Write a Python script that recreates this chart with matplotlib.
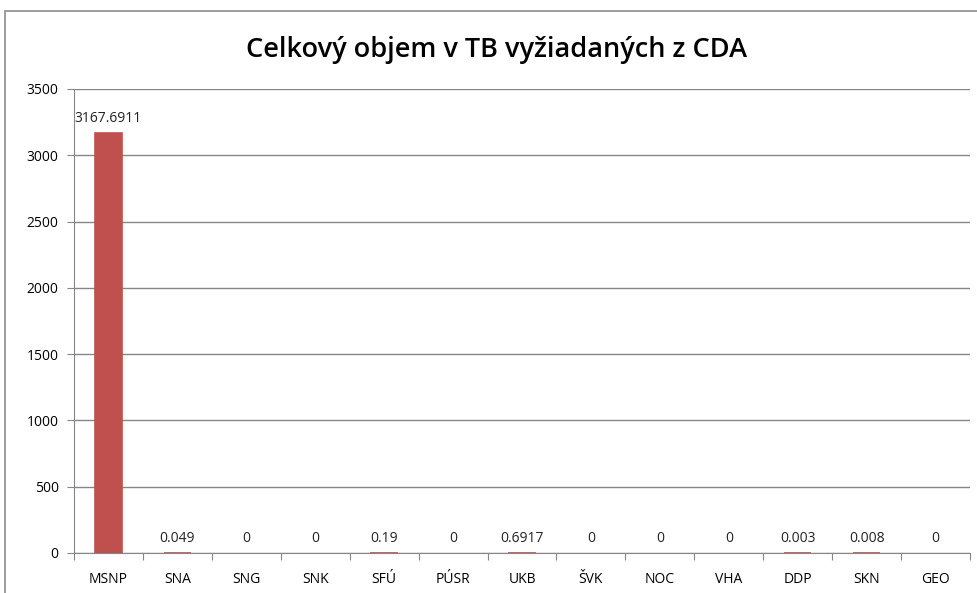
import numpy as np
from matplotlib import pyplot as plt
from matplotlib.patches import Rectangle

categories = ["MSNP", "SNA", "SNG", "SNK", "SFÚ", "PÚSR", "UKB", "ŠVK", "NOC", "VHA", "DDP", "SKN", "GEO"]
values = [3167.6911, 0.049, 0, 0, 0.19, 0, 0.6917, 0, 0, 0, 0.003, 0.008, 0]
value_labels = ["3167.6911", "0.049", "0", "0", "0.19", "0", "0.6917", "0", "0", "0", "0.003", "0.008", "0"]
yticks = [0, 500, 1000, 1500, 2000, 2500, 3000, 3500]

plt.rcParams['font.family'] = ['Open Sans', 'DejaVu Sans']
red = "#C0504D"
grid = "#868686"

fig = plt.figure(figsize=(9.77, 5.93), dpi=100)
ax = fig.add_axes([74 / 977, 1 - 553 / 593, (970 - 74) / 977, (553 - 89) / 593])

x = np.arange(len(categories))
edges = [red if v > 0 else "none" for v in values]
bars = ax.bar(x, values, width=0.4, color=red, edgecolor=edges, linewidth=1.2, zorder=3)
ax.bar_label(bars, labels=value_labels, padding=5, fontsize=10, color="#222222")

ax.set_xlim(-0.5, len(categories) - 0.5)
ax.set_ylim(0, 3500)
ax.set_yticks(yticks)
ax.set_yticklabels([str(t) for t in yticks], fontsize=10)
ax.yaxis.grid(True, color=grid, linewidth=1, zorder=0)

ax.set_xticks(np.arange(len(categories) + 1) - 0.5)
ax.set_xticklabels([])
ax.set_xticks(x, minor=True)
ax.set_xticklabels(categories, minor=True, fontsize=10)
ax.tick_params(axis="x", which="major", length=5, color=grid, direction="out")
ax.tick_params(axis="x", which="minor", length=0, pad=14)
ax.tick_params(axis="y", length=5, color=grid, pad=6)

for s in ["top", "right"]:
    ax.spines[s].set_visible(False)
for s in ["left", "bottom"]:
    ax.spines[s].set_color(grid)

fig.text(497 / 977, 1 - 50 / 593, "Celkový objem v TB vyžiadaných z CDA",
         ha="center", va="center", fontsize=19.5, fontweight="semibold")

fig.patches.append(Rectangle((5 / 977, -0.1), 1.2, 1 - 11 / 593 + 0.1, transform=fig.transFigure,
                             fill=False, edgecolor="#8c8c8c", linewidth=1.2))

fig.savefig("out.png", dpi=100)
